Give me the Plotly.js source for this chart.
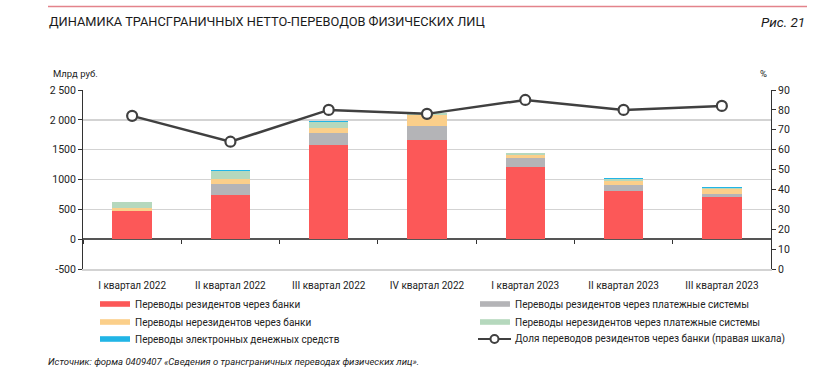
<!DOCTYPE html>
<html>
<head>
<meta charset="utf-8">
<script src="https://cdn.plot.ly/plotly-3.0.1.min.js"></script>
<style>html,body{margin:0;padding:0;background:#fff;}#chart{width:840px;height:379px;}</style>
</head>
<body>
<div id="chart"></div>
<script>
// ---- Data ----
const categories = ["I квартал 2022","II квартал 2022","III квартал 2022","IV квартал 2022","I квартал 2023","II квартал 2023","III квартал 2023"];
const residentsBanks = [465, 738, 1572, 1656, 1208, 811, 710];
const residentsPaySys = [0, 180, 212, 240, 146, 101, 45];
const nonresidentsBanks = [50, 84, 84, 184, 56, 67, 79];
const nonresidentsPaySys = [106, 140, 94, 32, 30, 36, 26];
const electronicMoney = [4, 10, 18, 8, 8, 14, 14];
const shareResidentsBanks = [77, 64, 80, 78, 85, 80, 82];
const leftTickVals = [-500, 0, 500, 1000, 1500, 2000, 2500];
const leftTickText = ["-500", "0", "500", "1000", "1500", "2 000", "2 500"];
const seriesNames = [
  "Переводы резидентов через банки",
  "Переводы резидентов через платежные системы",
  "Переводы нерезидентов через банки",
  "Переводы нерезидентов через платежные системы",
  "Переводы электронных денежных средств",
  "Доля переводов резидентов через банки (правая шкала)"
];
const titleText = "ДИНАМИКА ТРАНСГРАНИЧНЫХ НЕТТО-ПЕРЕВОДОВ ФИЗИЧЕСКИХ ЛИЦ";
const figText = "Рис. 21";
const sourceText = "Источник: форма 0409407 «Сведения о трансграничных переводах физических лиц».";

// ---- Styles ----
const FONT = "Roboto, 'DejaVu Sans Condensed', sans-serif";
const colors = ["#FC5858", "#B4B4B7", "#FBCF8A", "#B5D8BD", "#22B5E6"];
const lineColor = "#404040";
const W = 840, H = 379, L = 83, R = 771, T = 90, B = 269;
const px = x => (x - L) / (R - L);
const py = y => (B - y) / (B - T);

const barSeries = [residentsBanks, residentsPaySys, nonresidentsBanks, nonresidentsPaySys, electronicMoney];
const traces = barSeries.map((vals, i) => ({
  type: "bar", x: categories, y: vals, name: seriesNames[i],
  marker: {color: colors[i], line: {width: 0}}, width: 0.4,
  xaxis: "x", yaxis: "y", showlegend: false, hoverinfo: "skip"
}));
traces.push({
  type: "scatter", mode: "lines+markers", x: categories, y: shareResidentsBanks,
  name: seriesNames[5], xaxis: "x2", yaxis: "y2", showlegend: false,
  line: {color: lineColor, width: 2.5},
  marker: {symbol: "circle", size: 10, color: "#ffffff", line: {color: lineColor, width: 2.2}},
  cliponaxis: false
});

const shapes = [
  {type: "line", xref: "paper", yref: "paper", x0: px(48), x1: px(807), y0: py(6.5), y1: py(6.5), line: {color: "#E3838B", width: 1.5}}
];
const annotations = [
  {text: titleText, xref: "paper", yref: "paper", x: px(47), y: py(22), xanchor: "left", yanchor: "middle", showarrow: false, font: {family: FONT, size: 12.8, color: "#1a1a1a"}},
  {text: figText, xref: "paper", yref: "paper", x: px(807), y: py(22), xanchor: "right", yanchor: "middle", showarrow: false, font: {family: FONT, size: 13.5, color: "#1a1a1a", style: "italic"}},
  {text: "Млрд руб.", xref: "paper", yref: "paper", x: px(51), y: py(73), xanchor: "left", yanchor: "middle", showarrow: false, font: {family: FONT, size: 9.5, color: "#222"}},
  {text: "%", xref: "paper", yref: "paper", x: px(763), y: py(73), xanchor: "center", yanchor: "middle", showarrow: false, font: {family: FONT, size: 9.5, color: "#222"}},
  {text: sourceText, xref: "paper", yref: "paper", x: px(46), y: py(361), xanchor: "left", yanchor: "middle", showarrow: false, font: {family: FONT, size: 9.5, color: "#222", style: "italic"}}
];
// Legend (two columns)
const legendPos = [[100, 304], [480, 304], [100, 322], [480, 322], [100, 339], [480, 339]];
legendPos.forEach((p, i) => {
  const [lx, ly] = p;
  if (i < 5) {
    shapes.push({type: "rect", xref: "paper", yref: "paper", x0: px(lx), x1: px(lx + 30), y0: py(ly - 2.8), y1: py(ly + 2.8), fillcolor: colors[i], line: {width: 0}});
  } else {
    shapes.push({type: "line", xref: "paper", yref: "paper", x0: px(lx - 2), x1: px(lx + 31), y0: py(ly), y1: py(ly), line: {color: lineColor, width: 2.2}});
    shapes.push({type: "circle", xref: "paper", yref: "paper", x0: px(lx + 10.5), x1: px(lx + 18.5), y0: py(ly + 4), y1: py(ly - 4), fillcolor: "#fff", line: {color: lineColor, width: 2}});
  }
  annotations.push({text: seriesNames[i], xref: "paper", yref: "paper", x: px(lx + 33), y: py(ly), xanchor: "left", yanchor: "middle", showarrow: false, font: {family: FONT, size: 10, color: "#222"}});
});

const layout = {
  width: W, height: H,
  margin: {l: L, r: W - R, t: T, b: H - B, pad: 0},
  paper_bgcolor: "#fff", plot_bgcolor: "#fff",
  font: {family: FONT, size: 10, color: "#222"},
  barmode: "stack", bargap: 0.6,
  showlegend: false,
  xaxis: {type: "category", showgrid: false, showline: true, linecolor: "#d3d3d3", linewidth: 1.5,
          ticks: "", tickfont: {family: FONT, size: 10, color: "#222"}, ticklabelstandoff: 6,
          zeroline: false, fixedrange: true},
  xaxis2: {type: "category", overlaying: "x", anchor: "free", position: py(239), matches: "x",
           showgrid: false, showline: false, showticklabels: false, ticks: "outside", ticklen: 4,
           tickcolor: "#333", tickwidth: 1, tickson: "boundaries", zeroline: false},
  yaxis: {range: [-500, 2500], tickvals: leftTickVals, ticktext: leftTickText,
          showgrid: true, gridcolor: "#d3d3d3", gridwidth: 1.5,
          zeroline: true, zerolinecolor: "#555", zerolinewidth: 1.5,
          showline: true, linecolor: "#333", linewidth: 1, ticks: "outside", ticklen: 4, tickcolor: "#333",
          tickfont: {family: FONT, size: 10.5, color: "#222"}, fixedrange: true},
  yaxis2: {range: [0, 90], dtick: 10, overlaying: "y", side: "right", anchor: "x",
           showgrid: false, zeroline: false, showline: true, linecolor: "#333", linewidth: 1,
           ticks: "outside", ticklen: 4, tickcolor: "#333",
           tickfont: {family: FONT, size: 10.5, color: "#222"}, fixedrange: true},
  shapes: shapes,
  annotations: annotations
};

Plotly.newPlot("chart", traces, layout, {staticPlot: true, displayModeBar: false});
</script>
</body>
</html>
